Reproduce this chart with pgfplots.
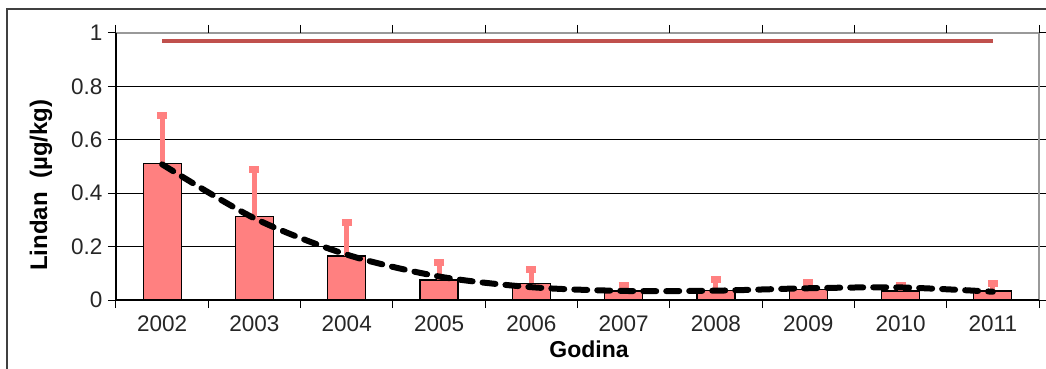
\documentclass[border=0pt]{standalone}
\usepackage{fontspec}
\setmainfont{Liberation Sans}
\usepackage{pgfplots}
\pgfplotsset{compat=1.18}
\definecolor{barpink}{RGB}{255,128,128}
\definecolor{limred}{RGB}{192,80,77}
\begin{document}
\begin{tikzpicture}
\useasboundingbox (-116pt,-69pt) rectangle (930pt,300pt);
\draw[line width=1.5pt, black!75] (-109pt,-69pt) -- (-109pt,291pt) -- (931pt,291pt);
\begin{axis}[
  at={(0,0)}, anchor=south west,
  scale only axis, width=923pt, height=267pt,
  xmin=-0.5, xmax=9.5, ymin=0, ymax=1,
  xtick={0,...,9},
  xticklabels={2002,2003,2004,2005,2006,2007,2008,2009,2010,2011},
  x tick style={draw=none},
  extra x ticks={-0.5,0.5,...,9.5},
  extra x tick labels={},
  extra x tick style={x tick style={draw=black, line width=1pt}, major tick length=8pt, tick align=outside},
  ytick={0,0.2,...,1},
  yticklabels={0,0.2,0.4,0.6,0.8,1},
  y tick style={black, line width=1pt},
  major tick length=8pt,
  tick align=outside,
  ymajorgrids,
  major grid style={black, line width=1pt},
  axis line style={draw=black!40, line width=1.5pt},
  tick label style={font=\fontsize{22.5}{22.5}\selectfont, text=black!85},
  xticklabel style={yshift=-4pt},
  yticklabel style={xshift=-2pt},
  /pgf/number format/assume math mode=true,
  xlabel={Godina},
  ylabel={Lindan\ \ (µg/kg)},
  every axis x label/.style={at={(axis description cs:0.5125,-0.2135)}, anchor=base, font=\bfseries\fontsize{23}{23}\selectfont},
  every axis y label/.style={at={(axis description cs:-0.0813,0.43)}, rotate=90, anchor=center, font=\bfseries\fontsize{24}{24}\selectfont},
  clip=false,
]
\addplot[ybar, bar width=38pt, fill=barpink, draw=black, line width=1.2pt,
  error bars/.cd, y dir=plus, y explicit,
  error bar style={line width=5pt, color=barpink},
  error mark options={rotate=90, line width=7pt, mark size=5pt, color=barpink}]
  coordinates {
  (0,0.512) +- (0,0.178)
  (1,0.312) +- (0,0.178)
  (2,0.165) +- (0,0.125)
  (3,0.075) +- (0,0.065)
  (4,0.062) +- (0,0.053)
  (5,0.034) +- (0,0.022)
  (6,0.037) +- (0,0.041)
  (7,0.038) +- (0,0.027)
  (8,0.034) +- (0,0.021)
  (9,0.034) +- (0,0.026)
  };
\addplot[limred, line width=4pt] coordinates {(0,0.97) (9,0.97)};
\addplot[black, line width=6pt, dash pattern=on 13pt off 10pt, smooth, line cap=round]
  coordinates {(0,0.508) (1,0.306) (2,0.170) (3,0.088) (4,0.048) (5,0.034) (6,0.035) (7,0.044) (8,0.047) (9,0.031)};
\draw[black, line width=1.5pt] (rel axis cs:0,1) -- (rel axis cs:0,0) -- (rel axis cs:1,0);
\end{axis}
\end{tikzpicture}
\end{document}
